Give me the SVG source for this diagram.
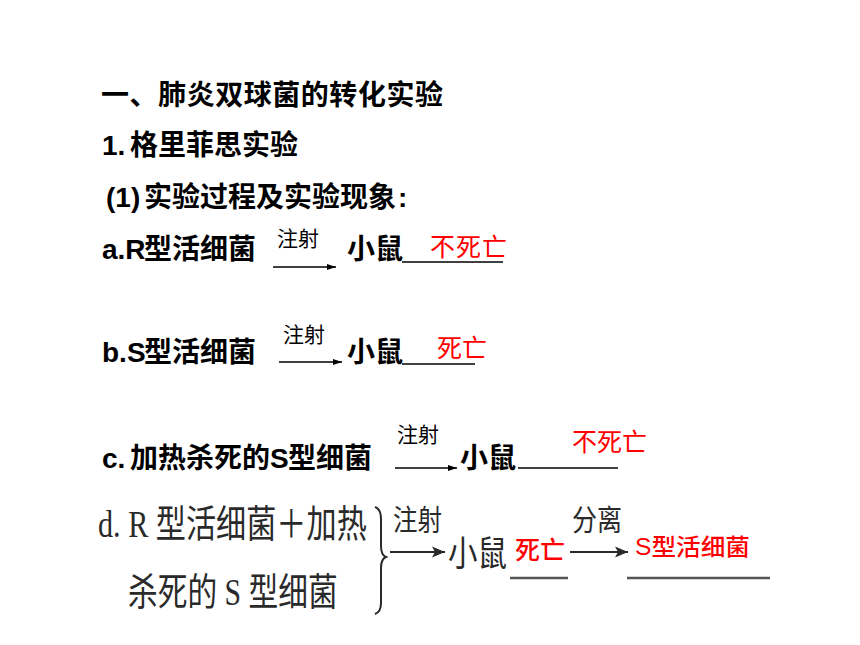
<svg xmlns="http://www.w3.org/2000/svg" width="860" height="645" viewBox="0 0 860 645">
<defs>
<style>
.b{font-family:"Liberation Sans","Noto Sans CJK SC",sans-serif;font-weight:bold;font-size:28px;fill:#000}
.s{font-family:"Noto Sans CJK SC","Liberation Sans",sans-serif;font-weight:normal;font-size:21px;fill:#000}
.r{font-family:"Liberation Sans","Noto Sans CJK SC",sans-serif;font-weight:normal;font-size:25px;fill:#ff0000}
.rd{font-family:"Liberation Sans","Noto Sans CJK SC",sans-serif;font-weight:500;fill:#ff0000}
.g{font-family:"Liberation Serif","Noto Sans CJK SC",serif;font-weight:normal;fill:#2a2a2a}
.ln{stroke:#000;stroke-width:1.5;fill:none}
.lg{stroke:#555;stroke-width:2.5;fill:none}
.ar{stroke:#000;stroke-width:1.5;fill:none;marker-end:url(#ah)}
.ag{stroke:#2a2a2a;stroke-width:2;fill:none;marker-end:url(#ahg)}
</style>
<marker id="ah" markerUnits="userSpaceOnUse" markerWidth="10" markerHeight="8" refX="9" refY="4" orient="auto">
<path d="M0,1 L9,4 L0,7 Z" fill="#000"/>
</marker>
<marker id="ahg" markerUnits="userSpaceOnUse" markerWidth="14" markerHeight="12" refX="13" refY="6" orient="auto">
<path d="M0,0.5 L13,6 L0,11.5 L3,6 Z" fill="#2a2a2a"/>
</marker>
</defs>
<rect width="860" height="645" fill="#fff"/>

<g id="title">
<text class="b" x="101" y="105" textLength="342" lengthAdjust="spacing">一、肺炎双球菌的转化实验</text>
</g>
<g id="sub1">
<text class="b" y="155"><tspan x="102">1.</tspan><tspan x="130">格里菲思实验</tspan></text>
</g>
<g id="sub2">
<text class="b" y="207"><tspan x="106">(1)</tspan><tspan x="144">实验过程及实验现象</tspan><tspan x="398">:</tspan></text>
</g>

<g id="rowA">
<text class="b" y="259"><tspan x="102">a.R</tspan><tspan x="144">型活细菌</tspan></text>
<text class="s" x="277" y="246">注射</text>
<text class="b" x="347" y="259">小鼠</text>
<text class="r" x="430" y="256" textLength="77" lengthAdjust="spacing">不死亡</text>
</g>

<g id="rowB">
<text class="b" y="362"><tspan x="102">b.S</tspan><tspan x="144">型活细菌</tspan></text>
<text class="s" x="283" y="342">注射</text>
<text class="b" x="347" y="362">小鼠</text>
<text class="r" x="437" y="357">死亡</text>
</g>

<g id="rowC">
<text class="b" y="468"><tspan x="102">c.</tspan><tspan x="130">加热杀死的</tspan><tspan x="270">S</tspan><tspan x="288">型细菌</tspan></text>
<text class="s" x="397" y="442">注射</text>
<text class="b" x="460" y="468">小鼠</text>
<text class="r" x="572" y="451">不死亡</text>
</g>

<g id="rowD">
<text class="g" transform="translate(98,537) scale(0.8,1)" x="0" y="0" font-size="38" textLength="336" lengthAdjust="spacingAndGlyphs">d. R 型活细菌＋加热</text>
<text class="g" transform="translate(128,605) scale(0.8,1)" x="0" y="0" font-size="38" textLength="262" lengthAdjust="spacingAndGlyphs">杀死的 S 型细菌</text>
<path d="M375,507 Q381,509 381,519 L381,546 Q381,555 386,557 Q381,559 381,568 L381,603 Q381,612 375,614" stroke="#2a2a2a" stroke-width="2" fill="none"/>
<text class="g" x="393" y="531" font-size="29" textLength="49" lengthAdjust="spacingAndGlyphs">注射</text>
<text class="g" x="448" y="566" font-size="35" textLength="59" lengthAdjust="spacingAndGlyphs">小鼠</text>
<text class="rd" x="515" y="559" font-size="25">死亡</text>
<text class="g" x="572" y="531" font-size="29" textLength="50" lengthAdjust="spacingAndGlyphs">分离</text>
<text class="rd" x="635" y="555" font-size="23" textLength="115" lengthAdjust="spacingAndGlyphs">S型活细菌</text>
</g>

<g id="connectors">
<line class="ar" x1="273" y1="267" x2="336" y2="267"/>
<line class="ln" x1="402" y1="262" x2="503" y2="262"/>
<line class="ar" x1="279" y1="362" x2="342" y2="362"/>
<line class="ln" x1="402" y1="364" x2="475" y2="364"/>
<line class="ar" x1="395" y1="468" x2="457" y2="468"/>
<line class="ln" x1="518" y1="468" x2="618" y2="468"/>
<line class="ag" x1="390" y1="552" x2="445" y2="552"/>
<line class="lg" x1="510" y1="578" x2="568" y2="578"/>
<line class="ag" x1="570" y1="552" x2="628" y2="552"/>
<line class="lg" x1="627" y1="578" x2="770" y2="578"/>
</g>
</svg>
